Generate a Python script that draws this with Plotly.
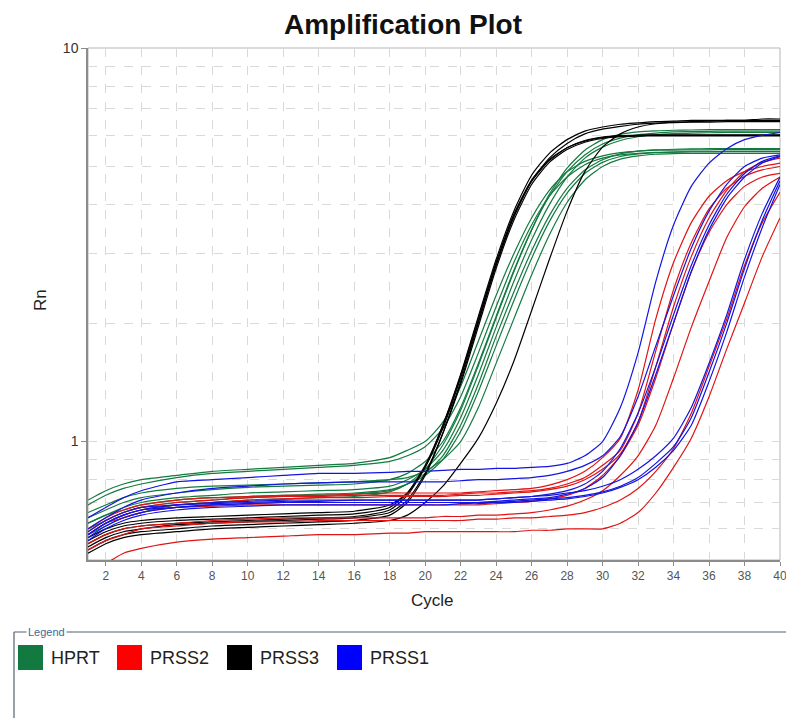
import math
import plotly.graph_objects as go

# Cycle grid on which each well's Rn was recorded
CYCLES = [1, 2, 3, 4, 6, 8, 10, 12, 14, 16,
          18, 19, 20, 21, 22, 23, 24, 25, 26, 27, 28, 29, 30,
          31, 32, 33, 34, 35, 36, 37, 38, 39, 40]

HPRT = [
    [0.71, 0.75, 0.78, 0.80, 0.82, 0.84, 0.85, 0.86, 0.87, 0.88,
     0.91, 0.95, 1.00, 1.12, 1.38, 1.80, 2.35, 3.00, 3.70, 4.35, 4.85, 5.15, 5.32,
     5.42, 5.47, 5.50, 5.50, 5.51, 5.51, 5.52, 5.52, 5.52, 5.52],
    [0.69, 0.73, 0.76, 0.78, 0.81, 0.83, 0.84, 0.85, 0.86, 0.87,
     0.89, 0.92, 0.97, 1.08, 1.30, 1.68, 2.20, 2.85, 3.55, 4.20, 4.70, 5.05, 5.25,
     5.35, 5.40, 5.43, 5.44, 5.45, 5.45, 5.46, 5.46, 5.46, 5.46],
    [0.64, 0.67, 0.70, 0.72, 0.74, 0.755, 0.765, 0.77, 0.775, 0.78,
     0.80, 0.83, 0.89, 1.00, 1.22, 1.58, 2.08, 2.72, 3.45, 4.20, 4.85, 5.35, 5.70,
     5.90, 6.02, 6.08, 6.12, 6.13, 6.14, 6.15, 6.15, 6.15, 6.15],
    [0.62, 0.65, 0.68, 0.70, 0.72, 0.73, 0.74, 0.745, 0.75, 0.755,
     0.77, 0.80, 0.85, 0.95, 1.15, 1.48, 1.95, 2.55, 3.25, 4.00, 4.70, 5.25, 5.60,
     5.82, 5.95, 6.02, 6.06, 6.08, 6.09, 6.10, 6.10, 6.10, 6.10],
    [0.60, 0.63, 0.66, 0.68, 0.70, 0.71, 0.72, 0.725, 0.73, 0.735,
     0.75, 0.78, 0.83, 0.92, 1.10, 1.40, 1.85, 2.40, 3.05, 3.75, 4.40, 4.90, 5.20,
     5.38, 5.47, 5.51, 5.53, 5.54, 5.55, 5.55, 5.55, 5.55, 5.55],
    [0.62, 0.65, 0.67, 0.69, 0.71, 0.72, 0.725, 0.73, 0.735, 0.74,
     0.755, 0.78, 0.82, 0.90, 1.06, 1.34, 1.75, 2.28, 2.92, 3.62, 4.28, 4.80, 5.12,
     5.30, 5.38, 5.42, 5.44, 5.45, 5.45, 5.45, 5.45, 5.45, 5.45],
    [0.58, 0.61, 0.64, 0.66, 0.69, 0.70, 0.71, 0.715, 0.72, 0.725,
     0.745, 0.78, 0.85, 0.98, 1.20, 1.56, 2.06, 2.70, 3.45, 4.25, 4.95, 5.50, 5.85,
     6.03, 6.12, 6.16, 6.18, 6.19, 6.20, 6.20, 6.20, 6.20, 6.20],
    [0.66, 0.69, 0.72, 0.74, 0.76, 0.77, 0.775, 0.78, 0.785, 0.79,
     0.80, 0.81, 0.84, 0.90, 1.00, 1.22, 1.58, 2.05, 2.65, 3.35, 4.05, 4.62, 5.00,
     5.22, 5.32, 5.37, 5.39, 5.40, 5.40, 5.40, 5.40, 5.40, 5.40],
]

PRSS2 = [
    [0.60, 0.64, 0.67, 0.69, 0.71, 0.72, 0.725, 0.73, 0.73, 0.735,
     0.74, 0.74, 0.74, 0.74, 0.74, 0.745, 0.75, 0.755, 0.76, 0.775, 0.80, 0.84, 0.91,
     1.02, 1.35, 2.05, 2.85, 3.60, 4.20, 4.60, 4.85, 5.00, 5.10],
    [0.59, 0.63, 0.66, 0.68, 0.70, 0.71, 0.72, 0.725, 0.725, 0.73,
     0.73, 0.73, 0.73, 0.73, 0.735, 0.74, 0.74, 0.745, 0.75, 0.76, 0.78, 0.81, 0.87,
     0.95, 1.18, 1.70, 2.43, 3.20, 3.90, 4.40, 4.72, 4.90, 5.00],
    [0.58, 0.62, 0.64, 0.66, 0.68, 0.685, 0.69, 0.69, 0.69, 0.69,
     0.69, 0.69, 0.69, 0.69, 0.69, 0.69, 0.695, 0.70, 0.705, 0.715, 0.73, 0.76, 0.82,
     0.92, 1.10, 1.45, 2.00, 2.70, 3.40, 4.00, 4.45, 4.70, 4.80],
    [0.55, 0.58, 0.60, 0.61, 0.62, 0.63, 0.635, 0.64, 0.64, 0.64,
     0.64, 0.64, 0.64, 0.645, 0.645, 0.65, 0.65, 0.655, 0.66, 0.67, 0.685, 0.71, 0.75,
     0.82, 0.92, 1.10, 1.45, 1.95, 2.55, 3.30, 3.95, 4.40, 4.70],
    [0.53, 0.56, 0.58, 0.60, 0.61, 0.62, 0.625, 0.625, 0.63, 0.63,
     0.63, 0.63, 0.63, 0.63, 0.63, 0.635, 0.635, 0.64, 0.64, 0.645, 0.65, 0.66, 0.68,
     0.71, 0.76, 0.84, 0.96, 1.18, 1.55, 2.05, 2.80, 3.60, 4.30],
    [0.47, 0.49, 0.52, 0.535, 0.555, 0.565, 0.57, 0.575, 0.58, 0.58,
     0.585, 0.585, 0.59, 0.59, 0.59, 0.59, 0.59, 0.59, 0.595, 0.595, 0.60, 0.60, 0.60,
     0.62, 0.66, 0.74, 0.86, 1.02, 1.30, 1.72, 2.25, 2.95, 3.70],
    [0.58, 0.62, 0.65, 0.67, 0.69, 0.70, 0.71, 0.715, 0.72, 0.72,
     0.725, 0.725, 0.725, 0.725, 0.73, 0.73, 0.735, 0.74, 0.745, 0.755, 0.77, 0.80, 0.85,
     0.93, 1.12, 1.55, 2.20, 2.95, 3.70, 4.35, 4.85, 5.12, 5.25],
]

PRSS3 = [
    [0.55, 0.58, 0.60, 0.61, 0.62, 0.625, 0.63, 0.635, 0.64, 0.645,
     0.67, 0.73, 0.86, 1.10, 1.48, 2.08, 2.90, 3.85, 4.75, 5.40, 5.85, 6.15, 6.30,
     6.40, 6.45, 6.50, 6.52, 6.55, 6.55, 6.55, 6.55, 6.60, 6.60],
    [0.53, 0.56, 0.58, 0.59, 0.60, 0.61, 0.615, 0.62, 0.625, 0.63,
     0.65, 0.70, 0.82, 1.05, 1.42, 2.00, 2.80, 3.72, 4.60, 5.25, 5.72, 6.05, 6.22,
     6.32, 6.40, 6.44, 6.46, 6.48, 6.48, 6.50, 6.50, 6.50, 6.50],
    [0.56, 0.59, 0.61, 0.62, 0.63, 0.635, 0.64, 0.645, 0.65, 0.655,
     0.68, 0.74, 0.87, 1.10, 1.47, 2.05, 2.85, 3.78, 4.62, 5.20, 5.58, 5.80, 5.92,
     5.97, 5.99, 6.00, 6.00, 6.00, 6.00, 6.00, 6.00, 6.00, 6.00],
    [0.54, 0.57, 0.59, 0.60, 0.615, 0.62, 0.625, 0.63, 0.635, 0.64,
     0.66, 0.71, 0.83, 1.05, 1.40, 1.96, 2.75, 3.65, 4.50, 5.12, 5.52, 5.76, 5.89,
     5.95, 5.97, 5.98, 5.98, 5.98, 5.98, 5.98, 5.98, 5.98, 5.98],
    [0.57, 0.60, 0.62, 0.63, 0.64, 0.645, 0.65, 0.655, 0.66, 0.665,
     0.69, 0.74, 0.86, 1.08, 1.45, 2.02, 2.82, 3.74, 4.58, 5.18, 5.58, 5.82, 5.94,
     5.99, 6.01, 6.02, 6.02, 6.02, 6.02, 6.02, 6.02, 6.02, 6.02],
    [0.52, 0.55, 0.57, 0.58, 0.59, 0.60, 0.605, 0.61, 0.615, 0.62,
     0.63, 0.65, 0.70, 0.77, 0.88, 1.02, 1.25, 1.60, 2.15, 2.90, 3.85, 4.85, 5.60,
     6.05, 6.30, 6.42, 6.48, 6.50, 6.52, 6.55, 6.55, 6.55, 6.55],
]

PRSS1 = [
    [0.64, 0.68, 0.72, 0.75, 0.79, 0.80, 0.81, 0.82, 0.83, 0.83,
     0.835, 0.84, 0.84, 0.845, 0.85, 0.85, 0.855, 0.855, 0.86, 0.865, 0.88, 0.92, 1.00,
     1.22, 1.68, 2.55, 3.55, 4.45, 5.10, 5.55, 5.85, 6.00, 6.10],
    [0.60, 0.64, 0.68, 0.71, 0.74, 0.76, 0.77, 0.78, 0.785, 0.79,
     0.79, 0.79, 0.79, 0.79, 0.795, 0.80, 0.80, 0.805, 0.81, 0.82, 0.84, 0.87, 0.92,
     1.03, 1.30, 1.75, 2.35, 3.10, 3.85, 4.50, 5.00, 5.25, 5.35],
    [0.58, 0.62, 0.65, 0.67, 0.68, 0.69, 0.695, 0.70, 0.70, 0.70,
     0.70, 0.70, 0.70, 0.70, 0.70, 0.70, 0.705, 0.71, 0.715, 0.72, 0.735, 0.76, 0.81,
     0.92, 1.12, 1.48, 2.00, 2.70, 3.45, 4.15, 4.70, 5.10, 5.30],
    [0.59, 0.63, 0.66, 0.68, 0.69, 0.695, 0.70, 0.705, 0.705, 0.71,
     0.71, 0.71, 0.71, 0.71, 0.71, 0.71, 0.715, 0.72, 0.725, 0.735, 0.75, 0.78, 0.84,
     0.96, 1.18, 1.55, 2.10, 2.80, 3.55, 4.25, 4.80, 5.15, 5.32],
    [0.57, 0.61, 0.64, 0.66, 0.68, 0.69, 0.695, 0.70, 0.70, 0.70,
     0.70, 0.70, 0.70, 0.70, 0.70, 0.70, 0.70, 0.705, 0.71, 0.715, 0.72, 0.73, 0.745,
     0.77, 0.81, 0.88, 0.97, 1.15, 1.50, 2.00, 2.75, 3.65, 4.60],
    [0.56, 0.60, 0.63, 0.65, 0.67, 0.68, 0.685, 0.69, 0.69, 0.69,
     0.69, 0.69, 0.69, 0.69, 0.695, 0.695, 0.70, 0.70, 0.705, 0.71, 0.715, 0.725, 0.74,
     0.765, 0.80, 0.86, 0.95, 1.10, 1.42, 1.90, 2.62, 3.50, 4.50],
    [0.58, 0.62, 0.65, 0.67, 0.69, 0.70, 0.705, 0.71, 0.71, 0.71,
     0.71, 0.71, 0.71, 0.71, 0.71, 0.71, 0.715, 0.72, 0.725, 0.73, 0.74, 0.75, 0.77,
     0.80, 0.85, 0.92, 1.02, 1.22, 1.58, 2.10, 2.90, 3.80, 4.70],
]

TARGETS = ["HPRT", "PRSS2", "PRSS3", "PRSS1"]
TARGET_WELLS = {"HPRT": HPRT, "PRSS2": PRSS2, "PRSS3": PRSS3, "PRSS1": PRSS1}
LINE_COLORS = {"HPRT": "#137a40", "PRSS2": "#e01414", "PRSS3": "#000000", "PRSS1": "#1414e0"}
SWATCH_COLORS = {"HPRT": "#127a40", "PRSS2": "#ff0000", "PRSS3": "#000000", "PRSS1": "#0000ff"}

Y_TICKS = [1, 10]
Y_MINOR = [0.5, 0.6, 0.7, 0.8, 0.9, 2, 3, 4, 5, 6, 7, 8, 9]
X_TICKS = list(range(2, 41, 2))

W, H = 786, 718
L, R, T, B = 88, 6, 48, 158
PW, PH = W - L - R, H - T - B


def px(xp):
    return (xp - L) / PW


def py(yp):
    return (H - B - yp) / PH


fig = go.Figure()
for name in ["HPRT", "PRSS3", "PRSS2", "PRSS1"]:
    for well in TARGET_WELLS[name]:
        fig.add_trace(go.Scatter(
            x=CYCLES, y=well, mode="lines", name=name, showlegend=False,
            line=dict(color=LINE_COLORS[name], width=1.2, shape="spline", smoothing=0.6),
            hoverinfo="skip",
        ))

grid = "#d9d9d9"
fig.update_layout(
    width=W, height=H,
    margin=dict(l=L, r=R, t=T, b=B, autoexpand=False),
    paper_bgcolor="white", plot_bgcolor="white",
    font=dict(family="Liberation Sans, Arial, sans-serif", color="#222"),
    showlegend=False,
    title=dict(text="<b>Amplification Plot</b>", x=403 / W, xanchor="center",
               y=1 - 24 / H, yanchor="middle", yref="container",
               font=dict(size=28, color="#111")),
    xaxis=dict(range=[1, 40], tickmode="array", tickvals=X_TICKS,
               showgrid=True, gridcolor=grid, griddash="dash", gridwidth=1,
               showline=True, linecolor="#8c8c8c", linewidth=1.5,
               ticks="outside", ticklen=4, tickcolor="#8c8c8c",
               ticklabeloverflow="allow", automargin=False,
               tickfont=dict(size=12, color="#555"), zeroline=False),
    yaxis=dict(type="log", range=[math.log10(0.5), 1], tickmode="array",
               tickvals=Y_TICKS, ticktext=[str(v) for v in Y_TICKS],
               showgrid=True, gridcolor=grid, griddash="dash", gridwidth=1,
               showline=True, linecolor="#8c8c8c", linewidth=1.5,
               ticks="outside", ticklen=5, tickcolor="#8c8c8c", automargin=False,
               tickfont=dict(size=14, color="#333"), zeroline=False,
               minor=dict(tickmode="array", tickvals=Y_MINOR, showgrid=True,
                          gridcolor=grid, griddash="dash", ticks="")),
)

shapes = [
    dict(type="rect", xref="paper", yref="paper", x0=0, x1=1, y0=0, y1=1,
         line=dict(color="#b5b5b5", width=1), layer="below"),
    # legend frame
    dict(type="line", xref="paper", yref="paper", x0=px(14), x1=px(786), y0=py(632), y1=py(632),
         line=dict(color="#55606e", width=1.2)),
    dict(type="line", xref="paper", yref="paper", x0=px(14), x1=px(14), y0=py(632), y1=py(720),
         line=dict(color="#55606e", width=1.2)),
]
annotations = [
    dict(text="Rn", xref="paper", yref="paper", x=px(40), y=py(300), textangle=-90,
         showarrow=False, font=dict(size=17, color="#222"), xanchor="center", yanchor="middle"),
    dict(text="Cycle", xref="paper", yref="paper", x=px(432), y=py(600),
         showarrow=False, font=dict(size=17, color="#222"), xanchor="center", yanchor="middle"),
    dict(text="Legend", xref="paper", yref="paper", x=px(26), y=py(632), bgcolor="white",
         showarrow=False, font=dict(size=11, color="#3d6a99"), xanchor="left", yanchor="middle",
         borderpad=1),
]

sw_left = [18, 117, 227, 337]
for name, x0 in zip(TARGETS, sw_left):
    shapes.append(dict(type="rect", xref="paper", yref="paper",
                       x0=px(x0), x1=px(x0 + 25), y0=py(670), y1=py(645),
                       fillcolor=SWATCH_COLORS[name], line=dict(color=SWATCH_COLORS[name], width=0)))
    annotations.append(dict(text=name, xref="paper", yref="paper", x=px(x0 + 31), y=py(658),
                            showarrow=False, xanchor="left", yanchor="middle",
                            font=dict(size=18, color="#222")))

fig.update_layout(shapes=shapes, annotations=annotations)
fig.write_html("out.html")
